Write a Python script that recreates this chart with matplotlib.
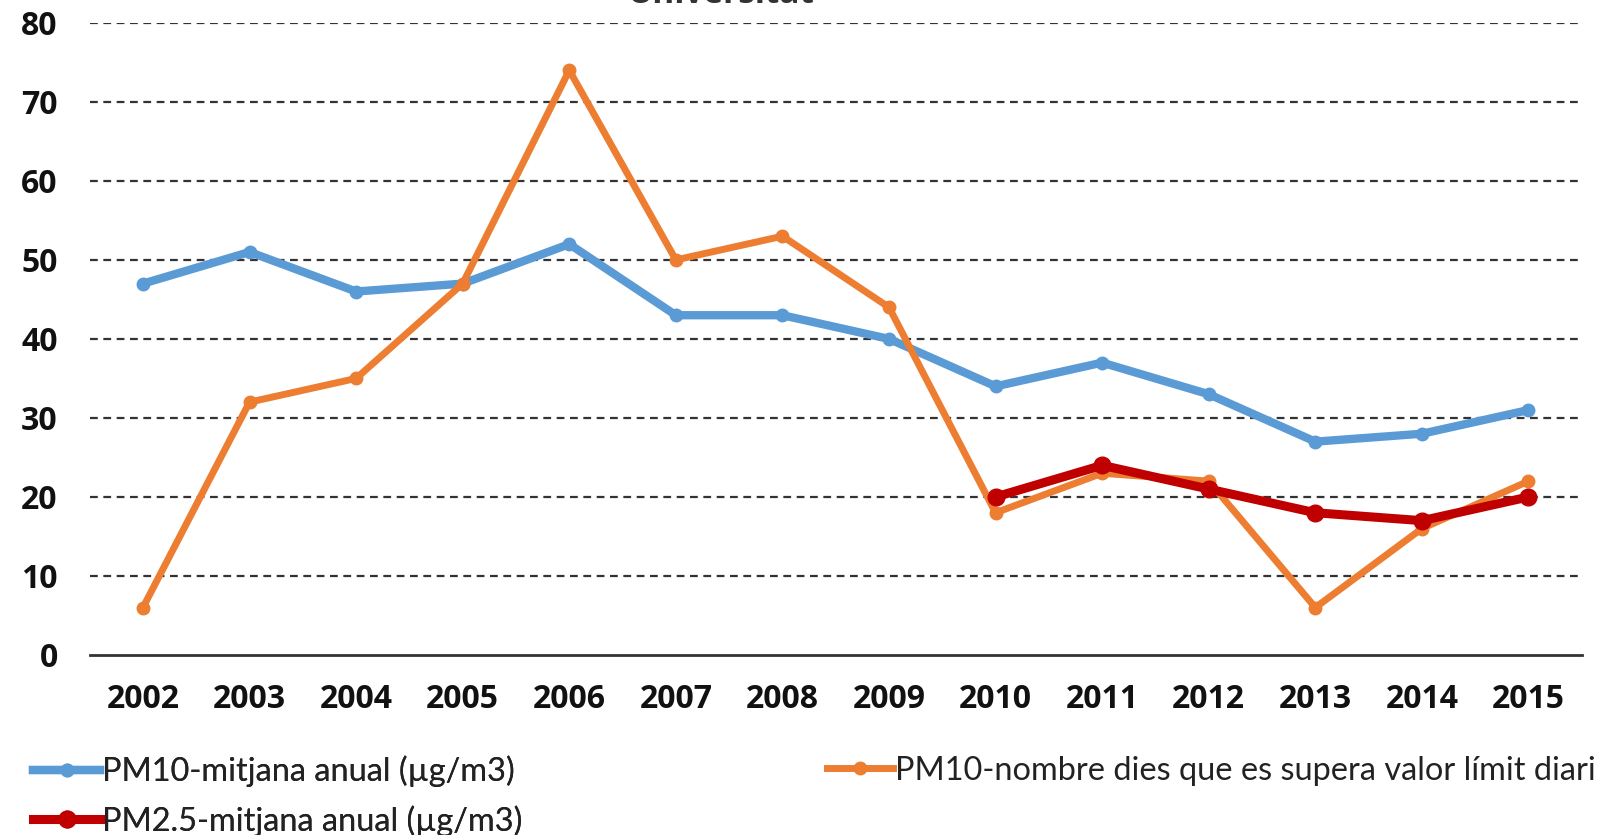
import matplotlib
matplotlib.use("Agg")
import matplotlib.pyplot as plt
from matplotlib.lines import Line2D

years = ["2002", "2003", "2004", "2005", "2006", "2007", "2008",
         "2009", "2010", "2011", "2012", "2013", "2014", "2015"]
pm10_mean = [47, 51, 46, 47, 52, 43, 43, 40, 34, 37, 33, 27, 28, 31]
pm10_days = [6, 32, 35, 47, 74, 50, 53, 44, 18, 23, 22, 6, 16, 22]
pm25_years = ["2010", "2011", "2012", "2013", "2014", "2015"]
pm25_mean = [20, 24, 21, 18, 17, 20]
yticks = [0, 10, 20, 30, 40, 50, 60, 70, 80]

label_blue = "PM10-mitjana anual (\u00b5g/m3)"
label_orange = "PM10-nombre dies que es supera valor l\u00edmit diari"
label_red = "PM2.5-mitjana anual (\u00b5g/m3)"
title = "Universitat"

BLUE = "#5B9BD5"
ORANGE = "#ED7D31"
RED = "#C00000"

plt.rcParams['font.family'] = ['Open Sans', 'DejaVu Sans']

fig = plt.figure(figsize=(16.01, 8.35), dpi=100)
ax = fig.add_axes([0.056, 0.2156, 0.932, 0.757])

x = list(range(len(years)))
xr = [years.index(y) for y in pm25_years]

ax.plot(x, pm10_mean, color=BLUE, lw=6, marker='o', ms=9, zorder=3)
ax.plot(x, pm10_days, color=ORANGE, lw=5, marker='o', ms=9, zorder=4)
ax.plot(xr, pm25_mean, color=RED, lw=6.5, marker='o', ms=12, zorder=5)

ax.set_xlim(-0.5, len(years) - 0.5)
ax.set_ylim(0, 80)
ax.set_yticks(yticks)
ax.set_xticks(x)
ax.set_xticklabels(years)
for s in ['top', 'right', 'left']:
    ax.spines[s].set_visible(False)
ax.spines['bottom'].set_color('#333333')
ax.spines['bottom'].set_linewidth(2)
ax.tick_params(length=0, labelsize=23)
ax.tick_params(axis='x', pad=20)
ax.tick_params(axis='y', pad=23)
for lab in ax.get_xticklabels() + ax.get_yticklabels():
    lab.set_fontweight('bold')
    lab.set_color('#111111')
ax.yaxis.grid(True, linestyle=(0, (3.5, 2.5)), color='#333333', lw=1.6)
ax.set_axisbelow(True)
ax.get_ygridlines()[0].set_visible(False)

fig.text(0.45, 1.006, title, ha='center', va='center', fontsize=24,
         fontweight='bold', color='#333333')

h_blue = Line2D([], [], color=BLUE, lw=6, marker='o', ms=9)
h_red = Line2D([], [], color=RED, lw=6.5, marker='o', ms=12)
h_orange = Line2D([], [], color=ORANGE, lw=5, marker='o', ms=9)

leg_kw = dict(loc='upper left', frameon=False,
              prop={'family': ['Lato', 'DejaVu Sans'], 'size': 23.4},
              handlelength=2.05, handletextpad=0.05, labelspacing=0.55,
              labelcolor='#222222')
leg1 = fig.legend([h_blue, h_red], [label_blue, label_red],
                  bbox_to_anchor=(0.0026, 0.13), **leg_kw)
fig.add_artist(leg1)
fig.legend([h_orange], [label_orange],
           bbox_to_anchor=(0.498, 0.13), **leg_kw)

fig.savefig("out.png", dpi=100)
